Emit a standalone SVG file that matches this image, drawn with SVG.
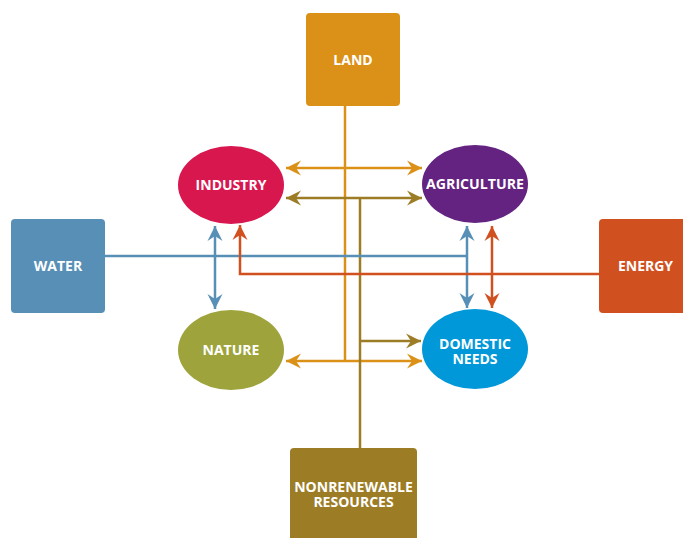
<svg xmlns="http://www.w3.org/2000/svg" width="683" height="538" viewBox="0 0 683 538">
<style>
.lbl{font-family:"Open Sans","DejaVu Sans",sans-serif;font-weight:bold;font-size:14px;fill:#fff;text-anchor:middle}
.ln{fill:none;stroke-width:2.5}
</style>
<defs>
<marker id="aO" markerUnits="userSpaceOnUse" viewBox="-15 -8 16 16" refX="0" refY="0" markerWidth="16" markerHeight="16" orient="auto-start-reverse"><path d="M0,0 L-15,-7.5 L-10,0 L-15,7.5 Z" fill="#DB9118"/></marker>
<marker id="aV" markerUnits="userSpaceOnUse" viewBox="-15 -8 16 16" refX="0" refY="0" markerWidth="16" markerHeight="16" orient="auto-start-reverse"><path d="M0,0 L-15,-7.5 L-10,0 L-15,7.5 Z" fill="#9C7D26"/></marker>
<marker id="aB" markerUnits="userSpaceOnUse" viewBox="-15 -8 16 16" refX="0" refY="0" markerWidth="16" markerHeight="16" orient="auto-start-reverse"><path d="M0,0 L-15,-7.5 L-10,0 L-15,7.5 Z" fill="#578FB6"/></marker>
<marker id="aR" markerUnits="userSpaceOnUse" viewBox="-15 -8 16 16" refX="0" refY="0" markerWidth="16" markerHeight="16" orient="auto-start-reverse"><path d="M0,0 L-15,-7.5 L-10,0 L-15,7.5 Z" fill="#D1501F"/></marker>
</defs>
<g id="connectors">
<path class="ln" stroke="#DB9118" d="M345,106 V361"/>
<path class="ln" stroke="#DB9118" d="M286,168 H422" marker-start="url(#aO)" marker-end="url(#aO)"/>
<path class="ln" stroke="#DB9118" d="M286,361 H422" marker-start="url(#aO)" marker-end="url(#aO)"/>
<path class="ln" stroke="#9C7D26" d="M360,448 V198"/>
<path class="ln" stroke="#9C7D26" d="M286,198 H422" marker-start="url(#aV)" marker-end="url(#aV)"/>
<path class="ln" stroke="#9C7D26" d="M360,341 H421" marker-end="url(#aV)"/>
<path class="ln" stroke="#578FB6" d="M105,256 H467"/>
<path class="ln" stroke="#578FB6" d="M467,226 V308" marker-start="url(#aB)" marker-end="url(#aB)"/>
<path class="ln" stroke="#578FB6" d="M215,226 V309" marker-start="url(#aB)" marker-end="url(#aB)"/>
<path class="ln" stroke="#D1501F" d="M599,274 H240 V225" marker-end="url(#aR)"/>
<path class="ln" stroke="#D1501F" d="M492,226 V308" marker-start="url(#aR)" marker-end="url(#aR)"/>
</g>
<g id="land"><rect x="306" y="13" width="94" height="93" rx="4" fill="#DB9118"/><text class="lbl" x="353" y="65">LAND</text></g>
<g id="water"><rect x="11" y="219" width="94" height="94" rx="4" fill="#578FB6"/><text class="lbl" x="58" y="271">WATER</text></g>
<g id="energy"><rect x="599" y="219" width="94" height="94" rx="4" fill="#D1501F"/><text class="lbl" x="645.5" y="271">ENERGY</text></g>
<g id="nonrenewable"><rect x="290" y="448" width="127" height="100" rx="4" fill="#9C7D26"/><text class="lbl" x="353.5" y="492">NONRENEWABLE</text><text class="lbl" x="353.5" y="507">RESOURCES</text></g>
<g id="industry"><ellipse cx="231" cy="185" rx="53" ry="39" fill="#D8174F"/><text class="lbl" x="231" y="190">INDUSTRY</text></g>
<g id="agriculture"><ellipse cx="475" cy="184" rx="53" ry="39" fill="#642381"/><text class="lbl" x="475" y="189" textLength="98" lengthAdjust="spacingAndGlyphs">AGRICULTURE</text></g>
<g id="nature"><ellipse cx="231" cy="350" rx="53" ry="40" fill="#9EA43B"/><text class="lbl" x="231" y="355">NATURE</text></g>
<g id="domestic"><ellipse cx="475" cy="349" rx="53" ry="40" fill="#0098D8"/><text class="lbl" x="475" y="349">DOMESTIC</text><text class="lbl" x="475" y="364">NEEDS</text></g>
</svg>
